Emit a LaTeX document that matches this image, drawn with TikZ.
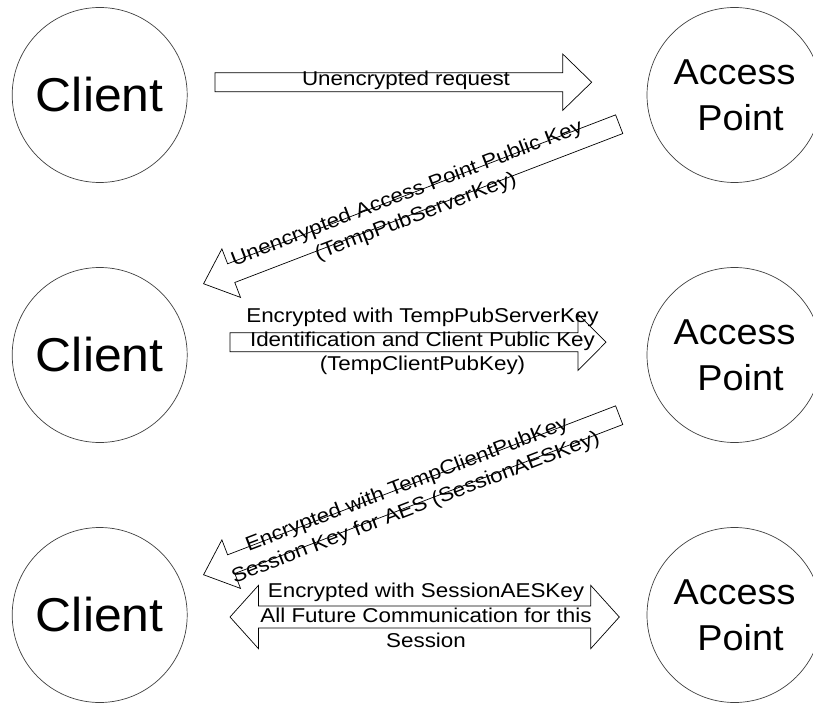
\documentclass[tikz,border=0pt]{standalone}
\usepackage{fontspec}
\setmainfont{Liberation Sans}
\newfontfamily\lblfont[FakeStretch=1.12]{Liberation Sans}
\newfontfamily\bigfont[FakeStretch=1.05]{Liberation Sans}
\begin{document}
\begin{tikzpicture}[x=1pt,y=-1pt,
  station/.style={circle, draw=black!75, line width=0.7pt, minimum size=175pt, inner sep=0pt},
  clientlbl/.style={font=\bigfont\fontsize{47.5}{50}\selectfont},
  aplbl/.style={font=\bigfont\fontsize{36}{46}\selectfont, align=center},
  msg/.style={font=\lblfont\fontsize{20}{24}\selectfont, align=center, inner sep=0pt},
  msgdiag/.style={font=\lblfont\fontsize{20}{24.5}\selectfont, align=center, inner sep=0pt, rotate=21},
  blockline/.style={draw=black, line width=0.7pt, line join=miter}
]
\useasboundingbox (0,0) rectangle (813,703);
\fill[white] (0,0) rectangle (813,703);

% stations
\node[station, clientlbl] (c1) at (99.7,95) {Client};
\node[station, clientlbl] (c2) at (99.7,355) {Client};
\node[station, clientlbl] (c3) at (99.7,615) {Client};
\node[station, aplbl] (a1) at (734.5,95) {Access\\\hspace*{12pt}Point};
\node[station, aplbl] (a2) at (734.5,355) {Access\\\hspace*{12pt}Point};
\node[station, aplbl] (a3) at (734.5,615) {Access\\\hspace*{12pt}Point};

% arrow 1: client -> AP
\draw[blockline] (215,72.7) -- (562.7,72.7) -- (562.7,54) -- (591.7,82.2) -- (562.7,110.4) -- (562.7,91.7) -- (215,91.7) -- cycle;
% arrow 2: AP -> client (diagonal)
\coordinate (t2) at (619.2,124.2);
\begin{scope}[shift={(t2)}, rotate=201]
  \draw[blockline] (0,-10) -- (415.6,-10) -- (415.6,-26) -- (445.2,0) -- (415.6,26) -- (415.6,10) -- (0,10) -- cycle;
\end{scope}
% arrow 3: client -> AP
\draw[blockline] (230,332.7) -- (578,332.7) -- (578,314) -- (606,342.2) -- (578,370.4) -- (578,351.7) -- (230,351.7) -- cycle;
% arrow 4: AP -> client (diagonal)
\coordinate (t4) at (619.2,415.2);
\begin{scope}[shift={(t4)}, rotate=201]
  \draw[blockline] (0,-10) -- (415.6,-10) -- (415.6,-26) -- (445.2,0) -- (415.6,26) -- (415.6,10) -- (0,10) -- cycle;
\end{scope}
% arrow 5: double
\draw[blockline] (230,617) -- (258.5,585.3) -- (258.5,606) -- (590.7,606) -- (590.7,585.3) -- (619.3,617) -- (590.7,648.7) -- (590.7,628) -- (258.5,628) -- (258.5,648.7) -- cycle;

% messages
\node[msg, anchor=base] (m1) at (406,86) {Unencrypted request};
\node[msgdiag] (m2) at (411.5,205.5) {Unencrypted Access Point Public Key\\(TempPubServerKey)};
\node[msg] (m3) at (422.5,341) {Encrypted with TempPubServerKey\\Identification and Client Public Key\\(TempClientPubKey)};
\node[msgdiag] (m4) at (411.5,496.5) {Encrypted with TempClientPubKey\\Session Key for AES (SessionAESKey)};
\node[msg, font=\lblfont\fontsize{20}{25}\selectfont] (m5) at (426,615.75) {Encrypted with SessionAESKey\\All Future Communication for this\\Session};
\end{tikzpicture}
\end{document}
